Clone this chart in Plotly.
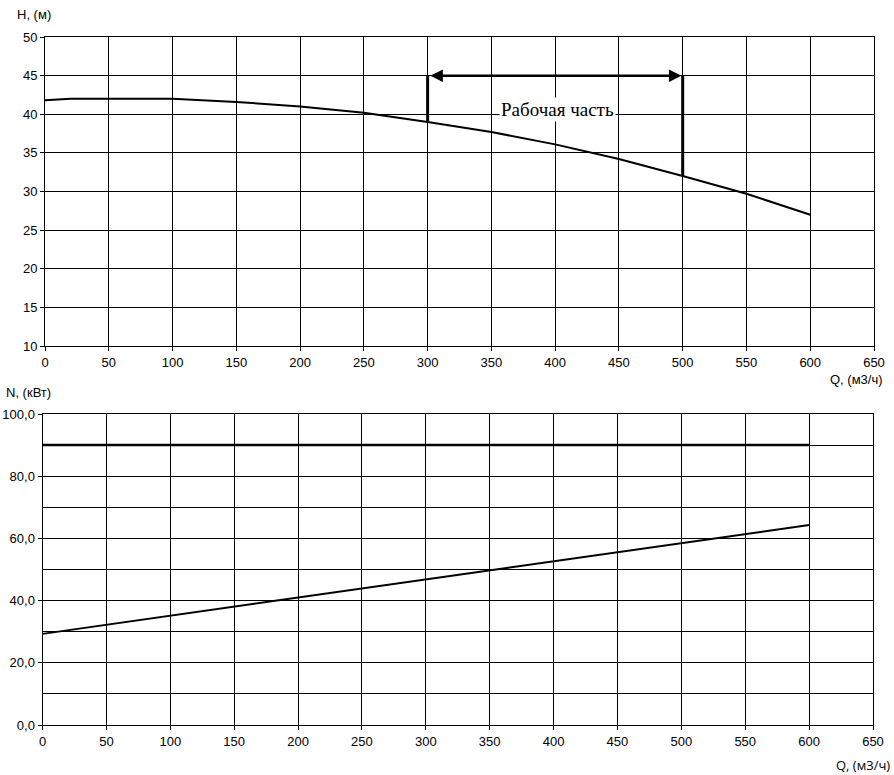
import plotly.graph_objects as go

# ---- data ----
q_h = [0, 20, 50, 100, 150, 200, 250, 300, 350, 400, 450, 500, 550, 600]
h_vals = [41.8, 42.0, 42.0, 42.0, 41.6, 41.0, 40.2, 39.0, 37.7, 36.1, 34.2, 32.0, 29.7, 27.0]

q_n = [0, 100, 200, 300, 400, 500, 600]
n_vals = [29.3, 35.1, 40.9, 46.7, 52.5, 58.4, 64.3]

q_max_line = [0, 600]
n_max_line = [90.0, 90.0]

work_q = [300, 500]
work_h_curve = [39.0, 32.0]
work_h_top = 45
work_label = "Рабочая часть"

x_ticks = list(range(0, 651, 50))
h_ticks = list(range(10, 51, 5))
n_ticks = list(range(0, 101, 20))
n_ticklabels = [("%.1f" % v).replace(".", ",") for v in n_ticks]

W, H = 894, 775
FONT = "Liberation Sans, Arial, sans-serif"


def px_x(p):
    return p / W


def px_y(p):
    return 1 - p / H


fig = go.Figure()
fig.add_trace(go.Scatter(x=q_h, y=h_vals, mode="lines", line=dict(color="black", width=2),
                         xaxis="x", yaxis="y", showlegend=False, hoverinfo="skip"))
fig.add_trace(go.Scatter(x=q_max_line, y=n_max_line, mode="lines", line=dict(color="black", width=2.5),
                         xaxis="x2", yaxis="y2", showlegend=False, hoverinfo="skip"))
fig.add_trace(go.Scatter(x=q_n, y=n_vals, mode="lines", line=dict(color="black", width=2),
                         xaxis="x2", yaxis="y2", showlegend=False, hoverinfo="skip"))

axis_common = dict(showgrid=True, gridcolor="black", gridwidth=1, showline=True, linecolor="black",
                   linewidth=1, mirror=True, ticks="outside", ticklen=4, tickcolor="black",
                   zeroline=False, automargin=False,
                   tickfont=dict(family=FONT, size=13, color="black"))

fig.update_layout(
    width=W, height=H, margin=dict(l=0, r=0, t=0, b=0, autoexpand=False),
    paper_bgcolor="white", plot_bgcolor="white",
    xaxis=dict(axis_common, domain=[px_x(45), px_x(874)], range=[0, 650], tickvals=x_ticks, anchor="y"),
    yaxis=dict(axis_common, domain=[px_y(346), px_y(37)], range=[10, 50], tickvals=h_ticks, anchor="x"),
    xaxis2=dict(axis_common, domain=[px_x(42.5), px_x(873)], range=[0, 650], tickvals=x_ticks, anchor="y2"),
    yaxis2=dict(axis_common, domain=[px_y(725), px_y(414)], range=[0, 100], tickvals=n_ticks,
                ticktext=n_ticklabels, anchor="x2",
                minor=dict(dtick=10, showgrid=True, gridcolor="black", gridwidth=1, ticks="")),
)

# working range vertical lines
for qq, hh in zip(work_q, work_h_curve):
    fig.add_shape(type="line", xref="x", yref="y", x0=qq, x1=qq, y0=hh, y1=work_h_top,
                  line=dict(color="black", width=3))

# double arrow
fig.add_annotation(xref="x", yref="y", axref="x", ayref="y",
                   x=work_q[1] - 1, y=work_h_top, ax=work_q[0] + 1, ay=work_h_top,
                   text="", showarrow=True, arrowhead=2, startarrowhead=2, arrowside="end+start",
                   arrowwidth=2.5, arrowsize=1, startarrowsize=1, arrowcolor="black")

fig.add_annotation(xref="x", yref="y", x=402, y=40.6, text=work_label, showarrow=False,
                   bgcolor="white", font=dict(family="Liberation Serif, Times New Roman, serif",
                                              size=19, color="black"))

lab_font = dict(family=FONT, size=13, color="black")
fig.add_annotation(xref="paper", yref="paper", x=px_x(15), y=px_y(14), text="H, (м)", showarrow=False,
                   xanchor="left", yanchor="middle", font=lab_font)
fig.add_annotation(xref="paper", yref="paper", x=px_x(885), y=px_y(380), text="Q, (м3/ч)", showarrow=False,
                   xanchor="right", yanchor="middle", font=lab_font)
fig.add_annotation(xref="paper", yref="paper", x=px_x(4), y=px_y(392), text="N, (кВт)", showarrow=False,
                   xanchor="left", yanchor="middle", font=lab_font)
fig.add_annotation(xref="paper", yref="paper", x=px_x(892), y=px_y(765), text="Q, (м3/ч)", showarrow=False,
                   xanchor="right", yanchor="middle",
                   font=dict(family="Open Sans, sans-serif", size=13, color="black"))

fig.write_html("out.html", config={"displayModeBar": False},
               post_script="document.body.style.margin='0px';")
